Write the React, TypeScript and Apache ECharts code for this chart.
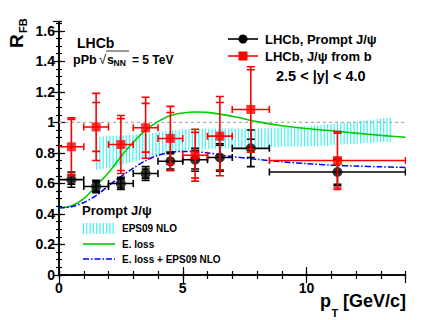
import React, { useEffect, useRef } from "react";
import * as echarts from "echarts";

const binCenter = [0.5, 1.5, 2.5, 3.5, 4.5, 5.5, 6.5, 7.75, 11.25];
const binLow = [0, 1, 2, 3, 4, 5, 6, 7, 8.5];
const binHigh = [1, 2, 3, 4, 5, 6, 7, 8.5, 14];

const promptY = [0.625, 0.58, 0.6, 0.665, 0.745, 0.755, 0.77, 0.83, 0.675];
const promptStat = [0.03, 0.03, 0.03, 0.03, 0.05, 0.06, 0.08, 0.06, 0.08];
const promptTot = [0.05, 0.04, 0.04, 0.045, 0.06, 0.075, 0.09, 0.12, 0.09];

const fromBY = [0.84, 0.97, 0.855, 0.965, 0.895, 0.785, 0.91, 1.085, 0.75];
const fromBStat = [0.18, 0.16, 0.17, 0.16, 0.17, 0.15, 0.22, 0.26, 0.18];
const fromBTot = [0.19, 0.22, 0.19, 0.2, 0.21, 0.17, 0.26, 0.28, 0.19];

const curveX = [0, 0.5, 1, 1.5, 2, 2.5, 3, 3.5, 4, 4.5, 5, 5.5, 6, 7, 8, 9, 10, 11, 12, 13, 14];
const eLossY = [0.44, 0.452, 0.5, 0.585, 0.67, 0.775, 0.87, 0.95, 1.005, 1.045, 1.062, 1.068, 1.066, 1.04, 1.005, 0.978, 0.96, 0.945, 0.93, 0.915, 0.903];
const eLossEpsY = [0.44, 0.447, 0.475, 0.52, 0.585, 0.645, 0.7, 0.75, 0.785, 0.803, 0.81, 0.808, 0.8, 0.776, 0.758, 0.742, 0.73, 0.72, 0.714, 0.709, 0.705];

const epsX = [1.5, 2, 2.5, 3, 3.5, 4, 4.5, 5, 6, 7, 8, 9, 10, 11, 12, 13, 13.5];
const epsLow = [0.69, 0.7, 0.72, 0.74, 0.765, 0.79, 0.805, 0.815, 0.825, 0.83, 0.835, 0.84, 0.842, 0.85, 0.86, 0.87, 0.875];
const epsHigh = [0.905, 0.91, 0.915, 0.92, 0.925, 0.935, 0.945, 0.955, 0.96, 0.96, 0.96, 0.965, 0.975, 0.99, 1.005, 1.025, 1.035];

const xTickLabels = ["0", "5", "10"];
const yTickLabels = ["0", "0.2", "0.4", "0.6", "0.8", "1", "1.2", "1.4", "1.6"];

const SANS = "'Liberation Sans', Arial, Helvetica, sans-serif";
const X_MIN = 0, X_MAX = 14, Y_MIN = 0, Y_MAX = 1.66;

function txt(text: string, x: number, y: number, size: number, extra: any = {}) {
  return {
    type: "text",
    x,
    y,
    z: 100,
    ...extra,
    style: {
      text,
      fill: "#000",
      fontSize: size,
      fontWeight: "bold",
      fontFamily: SANS,
      align: "left",
      verticalAlign: "middle",
      ...(extra.style || {}),
    },
  };
}

function errRender(color: string, capX: number) {
  return (params: any, api: any) => {
    const xc = api.value(0), y = api.value(1), xl = api.value(2), xh = api.value(3);
    const st = api.value(4), tt = api.value(5);
    const pC = api.coord([xc, y]);
    const pL = api.coord([xl, y]);
    const pH = api.coord([xh, y]);
    const yTT = api.coord([xc, y + tt])[1];
    const yTB = api.coord([xc, y - tt])[1];
    const yST = api.coord([xc, y + st])[1];
    const ySB = api.coord([xc, y - st])[1];
    const style = { stroke: color, lineWidth: 1.6 };
    const ln = (x1: number, y1: number, x2: number, y2: number) => ({ type: "line", shape: { x1, y1, x2, y2 }, style });
    const cw = 4;
    return {
      type: "group",
      children: [
        ln(pL[0], pC[1], pH[0], pC[1]),
        ln(pL[0], pC[1] - capX, pL[0], pC[1] + capX),
        ln(pH[0], pC[1] - capX, pH[0], pC[1] + capX),
        ln(pC[0], yTT, pC[0], yTB),
        ln(pC[0] - cw, yTT, pC[0] + cw, yTT),
        ln(pC[0] - cw, yTB, pC[0] + cw, yTB),
        ln(pC[0] - cw, yST, pC[0] + cw, yST),
        ln(pC[0] - cw, ySB, pC[0] + cw, ySB),
      ],
    };
  };
}

function bandRender(params: any, api: any) {
  if (params.dataIndex !== 0) return null;
  const up = epsX.map((x, i) => api.coord([x, epsHigh[i]]));
  const lo = epsX.map((x, i) => api.coord([x, epsLow[i]]));
  const children: any[] = [];
  const x0 = up[0][0], x1 = up[up.length - 1][0];
  const interp = (pts: number[][], px: number) => {
    for (let k = 0; k < pts.length - 1; k++) {
      if (px >= pts[k][0] && px <= pts[k + 1][0]) {
        const t = (px - pts[k][0]) / (pts[k + 1][0] - pts[k][0] || 1);
        return pts[k][1] + t * (pts[k + 1][1] - pts[k][1]);
      }
    }
    return pts[pts.length - 1][1];
  };
  for (let px = x0 + 0.5; px <= x1; px += 3.3) {
    children.push({
      type: "line",
      shape: { x1: px, y1: interp(up, px), x2: px, y2: interp(lo, px) },
      style: { stroke: "#44f2f2", lineWidth: 1.2 },
    });
  }
  return { type: "group", children };
}

function legendHatch(x0: number, y0: number, w: number, h: number) {
  const lines: any[] = [];
  for (let px = x0 + 0.5; px <= x0 + w; px += 3.3) {
    lines.push({ type: "line", z: 100, shape: { x1: px, y1: y0, x2: px, y2: y0 + h }, style: { stroke: "#44f2f2", lineWidth: 1.2 } });
  }
  return lines;
}

export default function App() {
  const ref = useRef<HTMLDivElement>(null);
  useEffect(() => {
    document.body.style.margin = "0";
    const chart = echarts.init(ref.current!, null, { renderer: "svg" });
    const axisLineStyle = { show: true, lineStyle: { color: "#000", width: 1.5 } };
    const labelStyle = { color: "#000", fontFamily: SANS, fontWeight: "bold", fontSize: 14 };
    const xMajor = (pos: string, labels: boolean, line: boolean) => ({
      type: "value", position: pos, min: X_MIN, max: X_MAX, interval: 5,
      axisLine: line ? axisLineStyle : { show: false },
      axisTick: { show: true, inside: true, length: 8, lineStyle: { color: "#000", width: 1.2 } },
      axisLabel: labels
        ? { show: true, ...labelStyle, margin: 6, showMaxLabel: false, formatter: (v: number) => (xTickLabels.includes(String(v)) ? String(v) : "") }
        : { show: false },
      splitLine: { show: false },
    });
    const xMinor = (pos: string) => ({
      type: "value", position: pos, min: X_MIN, max: X_MAX, interval: 1,
      axisLine: { show: false },
      axisTick: { show: true, inside: true, length: 4, lineStyle: { color: "#000", width: 1.2 } },
      axisLabel: { show: false }, splitLine: { show: false },
    });
    const yMajor = (pos: string, labels: boolean) => ({
      type: "value", position: pos, min: Y_MIN, max: Y_MAX, interval: 0.2,
      axisLine: axisLineStyle,
      axisTick: { show: true, inside: true, length: 6, lineStyle: { color: "#000", width: 1.2 } },
      axisLabel: labels
        ? { show: true, ...labelStyle, margin: 4, showMaxLabel: false, formatter: (v: number) => { const s = String(+v.toFixed(2)); return yTickLabels.includes(s) ? s : ""; } }
        : { show: false },
      splitLine: { show: false },
    });
    const yMinor = (pos: string) => ({
      type: "value", position: pos, min: Y_MIN, max: Y_MAX, interval: 0.05,
      axisLine: { show: false },
      axisTick: { show: true, inside: true, length: 3, lineStyle: { color: "#000", width: 1.2 } },
      axisLabel: { show: false }, splitLine: { show: false },
    });

    const promptErr = binCenter.map((x, i) => [x, promptY[i], binLow[i], binHigh[i], promptStat[i], promptTot[i]]);
    const fromBErr = binCenter.map((x, i) => [x, fromBY[i], binLow[i], binHigh[i], fromBStat[i], fromBTot[i]]);

    const graphic: any[] = [
      // axis titles
      txt("R", 16.5, 48, 19, { rotation: Math.PI / 2 }),
      txt("FB", 23, 33, 11, { rotation: Math.PI / 2 }),
      txt("p", 320, 300.5, 18),
      txt("T", 331.5, 312.5, 11),
      txt("[GeV/c]", 343, 300.5, 18),
      // top-left
      txt("LHCb", 77, 43, 14),
      txt("pPb", 73, 59.5, 12.5),
      txt("√", 99, 59, 13, { style: { fontWeight: "normal" } }),
      txt("s", 107, 59.5, 12.5),
      txt("NN", 113.5, 63, 8.5),
      { type: "line", z: 100, shape: { x1: 106, y1: 51, x2: 129, y2: 51 }, style: { stroke: "#000", lineWidth: 0.8 } },
      txt("= 5 TeV", 132, 59.5, 12),
      // top-right legend
      { type: "line", z: 100, shape: { x1: 228, y1: 39, x2: 258, y2: 39 }, style: { stroke: "#000", lineWidth: 1.6 } },
      { type: "circle", z: 101, shape: { cx: 243, cy: 39, r: 4.5 }, style: { fill: "#000" } },
      txt("LHCb, Prompt J/ψ", 265, 39, 13),
      { type: "line", z: 100, shape: { x1: 228, y1: 56, x2: 258, y2: 56 }, style: { stroke: "#ff0000", lineWidth: 1.6 } },
      { type: "rect", z: 101, shape: { x: 238.5, y: 51.5, width: 9, height: 9 }, style: { fill: "#ff0000" } },
      txt("LHCb, J/ψ from b", 265, 56, 13),
      txt("2.5 < |y| < 4.0", 276, 76, 14.5),
      // bottom-left legend
      txt("Prompt J/ψ", 82, 210, 13),
      ...legendHatch(83, 223, 32, 11),
      txt("EPS09 NLO", 122, 228, 10),
      { type: "line", z: 100, shape: { x1: 83, y1: 244, x2: 115, y2: 244 }, style: { stroke: "#00cc00", lineWidth: 1.6 } },
      txt("E. loss", 122, 244, 10),
      { type: "line", z: 100, shape: { x1: 83, y1: 259, x2: 115, y2: 259 }, style: { stroke: "#0000ff", lineWidth: 1.4, lineDash: [6, 2, 1.5, 2] } },
      txt("E. loss + EPS09 NLO", 122, 259, 10),
    ];

    chart.setOption({
      animation: false,
      backgroundColor: "#fff",
      grid: { left: 59, right: 21.5, top: 21.7, bottom: 45, containLabel: false },
      xAxis: [xMajor("bottom", true, true), xMinor("bottom"), xMajor("top", false, true), xMinor("top")],
      yAxis: [yMajor("left", true), yMinor("left"), yMajor("right", false), yMinor("right")],
      graphic,
      series: [
        {
          type: "custom", name: "EPS09 NLO", renderItem: bandRender, clip: true, z: 1,
          data: [[epsX[0], epsLow[0]]],
        },
        {
          type: "line", name: "unity", data: [[X_MIN, 1], [X_MAX, 1]], symbol: "none", z: 1,
          lineStyle: { color: "#b0b0b0", width: 1.2, type: [3, 3] },
        },
        {
          type: "line", name: "E. loss", data: curveX.map((x, i) => [x, eLossY[i]]), symbol: "none", smooth: 0.3, z: 2,
          lineStyle: { color: "#00cc00", width: 1.6 },
        },
        {
          type: "line", name: "E. loss + EPS09 NLO", data: curveX.map((x, i) => [x, eLossEpsY[i]]), symbol: "none", smooth: 0.3, z: 2,
          lineStyle: { color: "#0000ff", width: 1.5, type: [6, 2, 1.5, 2] },
        },
        { type: "custom", name: "prompt err", renderItem: errRender("#000", 3.5), data: promptErr, z: 3, clip: true },
        {
          type: "scatter", name: "LHCb, Prompt J/ψ", data: binCenter.map((x, i) => [x, promptY[i]]), z: 4,
          symbol: "circle", symbolSize: 10, itemStyle: { color: "#000" },
        },
        { type: "custom", name: "fromB err", renderItem: errRender("#ff0000", 3.5), data: fromBErr, z: 5, clip: true },
        {
          type: "scatter", name: "LHCb, J/ψ from b", data: binCenter.map((x, i) => [x, fromBY[i]]), z: 6,
          symbol: "rect", symbolSize: 9, itemStyle: { color: "#ff0000" },
        },
      ],
    });
    return () => chart.dispose();
  }, []);
  return <div ref={ref} style={{ width: 427, height: 320 }} />;
}
